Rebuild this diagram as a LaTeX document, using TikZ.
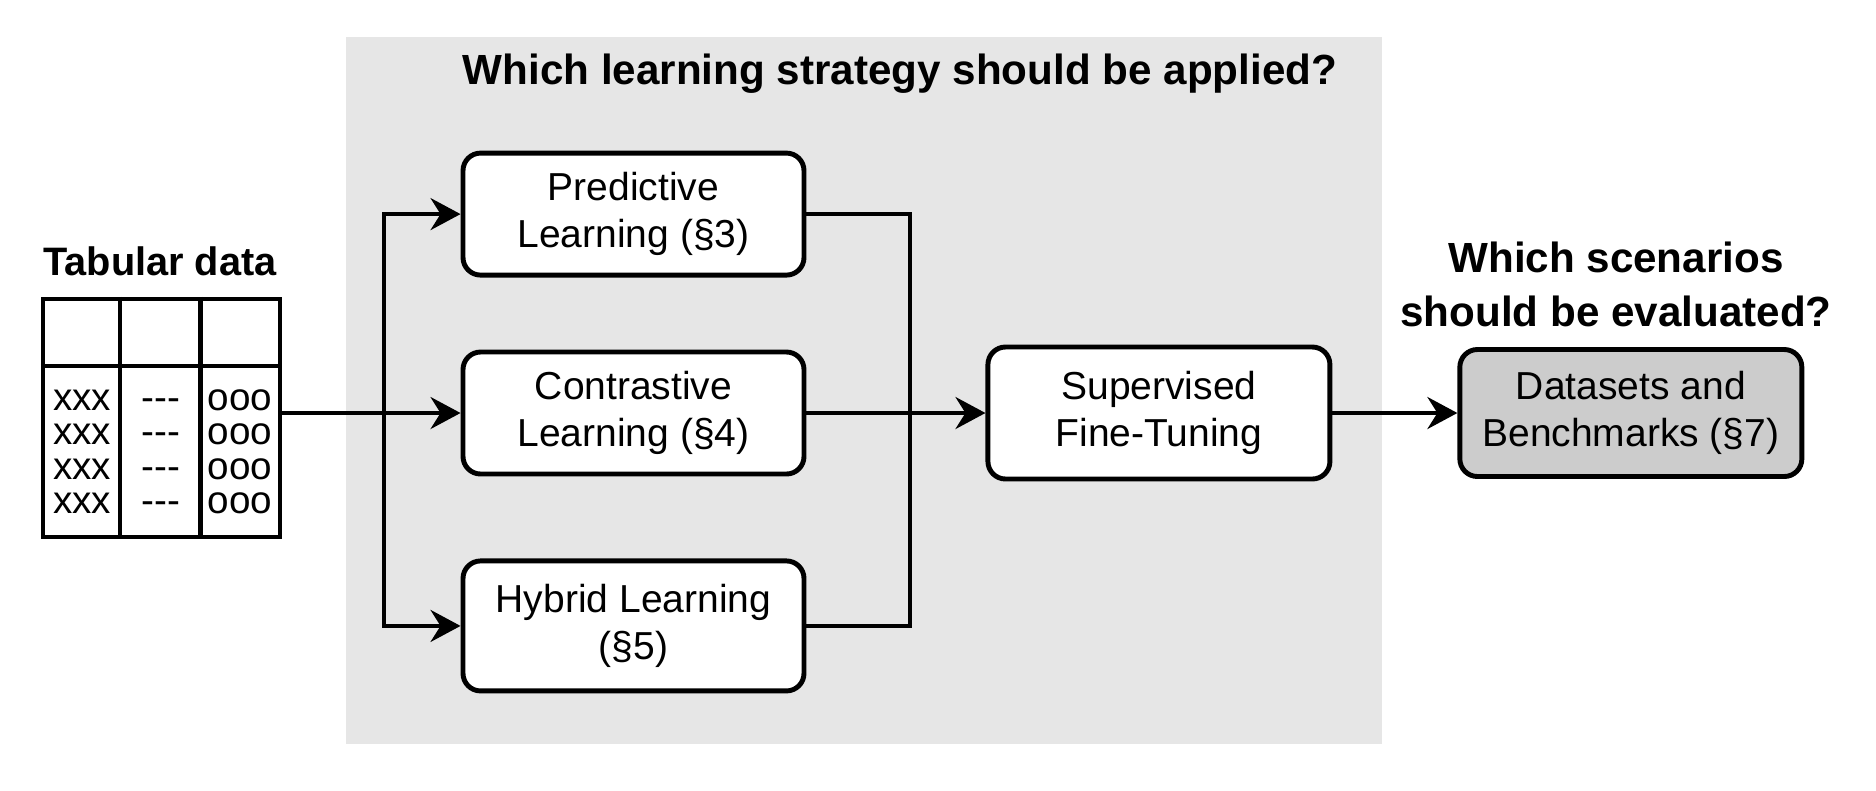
\documentclass[tikz,border=0pt]{standalone}
\usepackage{fontspec}
\setmainfont{Liberation Sans}
\usepackage{xcolor}
\definecolor{panelGray}{HTML}{E6E6E6}
\definecolor{resultGray}{HTML}{CCCCCC}
\definecolor{darkText}{HTML}{000000}
\usepackage{tikz}
\usetikzlibrary{
    arrows.meta,
    positioning,
    calc
}
\tikzset{
    % Base style for all boxes
    box base/.style={
        font=\fontsize{11.1}{13.4}\selectfont,
        align=center,
        text=darkText,
        rectangle,
        rounded corners=5pt,
        draw=black,
        line width=1.4pt,
        minimum width=3.41cm,
        minimum height=1.22cm,
        inner sep=2pt,
    },
    % Learning strategy boxes - white
    stage/.style={
        box base,
        fill=white,
    },
    % Evaluation box - gray
    result/.style={
        box base,
        fill=resultGray,
    },
    % Bold headings
    heading/.style={
        font=\fontsize{12}{15.5}\selectfont\bfseries,
        align=center,
        text=darkText,
    },
    % Table cells
    cell/.style={
        font=\fontsize{11}{11}\selectfont,
        anchor=base,
        inner sep=0pt,
    },
    % Plain connector
    link/.style={
        line width=1.1pt,
        draw=black,
    },
    % Arrow connector
    arrow/.style={
        link,
        -{Stealth[length=3mm, width=3.2mm, inset=1mm]},
    },
}

\begin{document}
\begin{tikzpicture}
    \useasboundingbox (0,0) rectangle (18.76,-7.9);

    % Strategy panel
    \fill [panelGray] (3.46,-0.37) rectangle (13.82,-7.44);
    \node (strat_title) [heading] at (9.00,-0.74) {Which learning strategy should be applied?};

    % Tabular data
    \node (tab_title) [heading, font=\fontsize{11.3}{14}\selectfont\bfseries] at (1.60,-2.61) {Tabular data};
    \node (tab) [draw, line width=1.2pt, minimum width=2.37cm, minimum height=2.38cm, inner sep=0pt] at (1.615,-4.18) {};
    \draw [line width=1.2pt] ($(tab.north west)!0.286!(tab.south west)$) -- ($(tab.north east)!0.286!(tab.south east)$);
    \foreach \c in {0.329,0.662}
        \draw [line width=1.2pt] ($(tab.north west)!\c!(tab.north east)$) -- ($(tab.south west)!\c!(tab.south east)$);
    \foreach \r in {0,...,3} {
        \node (xa\r) [cell] at (0.82,-4.10-0.345*\r) {xxx};
        \node (xb\r) [cell] at (1.61,-4.10-0.345*\r) {-{}-{}-};
        \node (xc\r) [cell] at (2.40,-4.10-0.345*\r) {ooo};
    }

    % Learning strategies
    \node (contr) [stage] at (6.335,-4.13) {Contrastive\\Learning (§4)};
    \node (pred) [stage, above=0.72cm of contr] {Predictive\\Learning (§3)};
    \node (hyb) [stage, below=0.82cm of contr, minimum height=1.30cm] {Hybrid Learning\\(§5)};
    \node (sft) [stage, right=1.79cm of contr, minimum width=3.42cm, minimum height=1.32cm] {Supervised\\Fine-Tuning};

    % Evaluation
    \node (eval_title) [heading] at (16.16,-2.845) {Which scenarios\\should be evaluated?};
    \node (data) [result, right=1.25cm of sft, minimum width=3.42cm, minimum height=1.27cm] {Datasets and\\Benchmarks (§7)};

    \coordinate (split) at (3.84,-4.13);
    \coordinate (merge) at (9.10,-4.13);

    \draw [arrow] (tab.east |- contr) -- (contr);
    \draw [arrow] (split) |- (pred.west);
    \draw [arrow] (split) |- (hyb.west);
    \draw [link] (pred.east) -| (merge);
    \draw [link] (hyb.east) -| (merge);
    \draw [arrow] (contr) -- (sft);
    \draw [arrow] (sft) -- (data);
\end{tikzpicture}
\end{document}
